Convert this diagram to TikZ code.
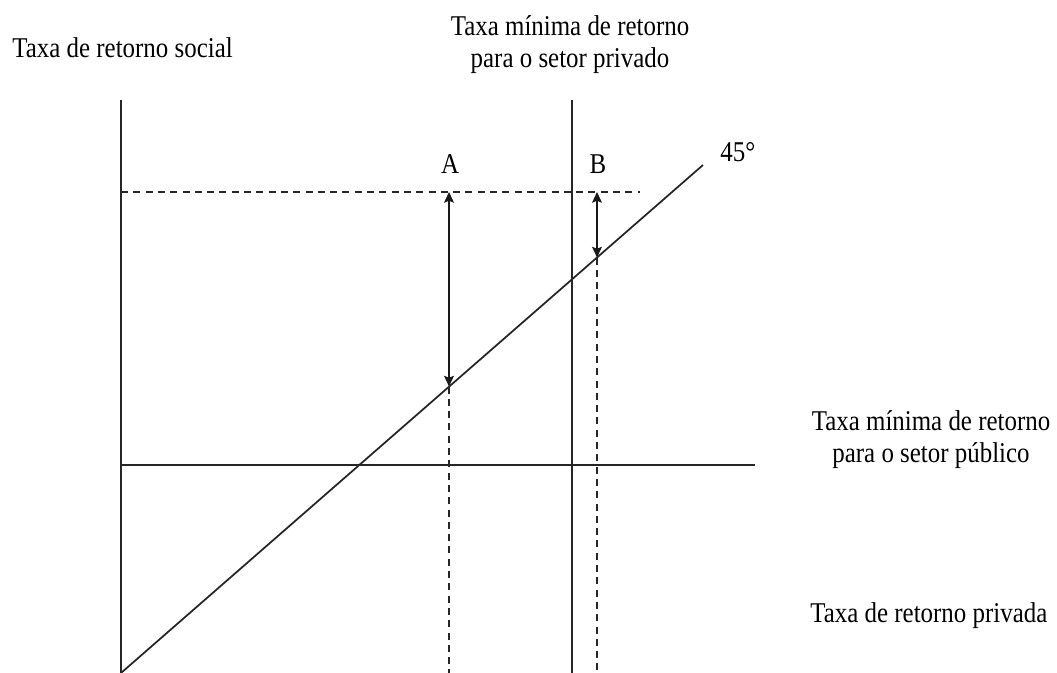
\documentclass[tikz,border=0pt]{standalone}
\usepackage{fontspec}
\setmainfont{Liberation Serif}[FakeStretch=0.87]
\usetikzlibrary{arrows.meta}
\tikzset{
  lbl/.style={inner sep=0pt,font=\fontsize{16.3}{18.2}\selectfont},
  axis/.style={line width=1pt,black!85},
  guide/.style={line width=0.9pt,dash pattern=on 4pt off 3pt,black!85},
  gap/.style={line width=1.3pt,black!90,{Stealth[length=6pt,width=5.5pt,inset=1pt]}-{Stealth[length=6pt,width=5.5pt,inset=1pt]}}
}

\begin{document}
\begin{tikzpicture}
      \useasboundingbox (0,0) rectangle (21.14,13.46);

      % axes and the two minimum rates
      \coordinate (O) at (2.42,0);
      \coordinate (ytop) at (2.42,11.46);
      \coordinate (pub0) at (2.42,4.16);
      \coordinate (pub1) at (15.10,4.16);
      \coordinate (priv0) at (11.44,0);
      \coordinate (priv1) at (11.44,11.46);
      \coordinate (diag) at (14.06,10.16);
      \draw [axis] (O) -- (ytop);
      \draw [axis] (priv0) -- (priv1);
      \draw [axis,line width=1.4pt] (pub0) -- (pub1);
      \draw [axis] (O) -- (diag);

      % social rate level
      \coordinate (soc0) at (2.42,9.62);
      \coordinate (soc1) at (12.80,9.62);
      \draw [guide] (soc0) -- (soc1);

      % projects A and B
      \coordinate (Atop) at (8.98,9.62);
      \coordinate (Amid) at (8.98,5.73);
      \coordinate (Abot) at (8.98,0);
      \coordinate (Btop) at (11.94,9.62);
      \coordinate (Bmid) at (11.94,8.31);
      \coordinate (Bbot) at (11.94,0);
      \draw [gap] (Atop) -- (Amid);
      \draw [guide] (Amid) -- (Abot);
      \draw [gap] (Btop) -- (Bmid);
      \draw [guide] (Bmid) -- (Bbot);

      \node [lbl,anchor=base] (A) at (9.00,9.98) {A};
      \node [lbl,anchor=base] (B) at (11.96,9.98) {B};
      \node [lbl,anchor=base west] (ang) at (14.40,10.22) {45°};

      \node [lbl,anchor=base west] (social) at (0.24,12.30) {Taxa de retorno social};
      \node [lbl,align=center] (privmin) at (11.40,12.56) {Taxa mínima de retorno\\para o setor privado};
      \node [lbl,align=center] (pubmin) at (18.62,4.67) {Taxa mínima de retorno\\para o setor público};
      \node [lbl,anchor=base west] (privada) at (16.20,1.00) {Taxa de retorno privada};

    \end{tikzpicture}
\end{document}
